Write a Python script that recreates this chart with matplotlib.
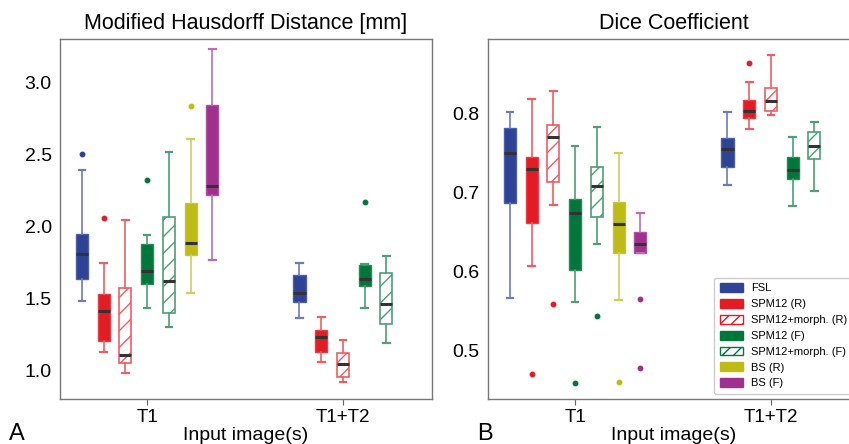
import matplotlib
matplotlib.use("Agg")
import matplotlib.pyplot as plt
import numpy as np
from matplotlib.patches import Patch
from matplotlib.colors import to_rgb

plt.rcParams['font.family'] = ['Liberation Sans', 'DejaVu Sans']
plt.rcParams['hatch.linewidth'] = 1.0

# ---------------- data ----------------
methods = ["FSL", "SPM12 (R)", "SPM12+morph. (R)", "SPM12 (F)",
           "SPM12+morph. (F)", "BS (R)", "BS (F)"]
groups = ["T1", "T1+T2"]
colors = ["#2E4396", "#E31B23", "#E31B23", "#00773A", "#00773A", "#BDBB14", "#A0308E"]
hatched = [False, False, True, False, True, False, False]

# Modified Hausdorff Distance, T1 (7 methods)
mhd_t1_whislo = [1.487, 1.132, 0.986, 1.434, 1.307, 1.540, 1.769]
mhd_t1_q1     = [1.640, 1.210, 1.058, 1.603, 1.400, 1.801, 2.217]
mhd_t1_med    = [1.808, 1.416, 1.113, 1.690, 1.626, 1.889, 2.284]
mhd_t1_q3     = [1.949, 1.531, 1.573, 1.878, 2.069, 2.164, 2.845]
mhd_t1_whishi = [2.393, 1.748, 2.046, 1.940, 2.520, 2.605, 3.231]
mhd_t1_fliers = [[2.501], [2.060], [], [2.323], [], [2.834], []]
# Modified Hausdorff Distance, T1+T2 (first 5 methods)
mhd_t12_whislo = [1.369, 1.060, 0.926, 1.439, 1.196]
mhd_t12_q1     = [1.480, 1.129, 0.956, 1.589, 1.323]
mhd_t12_med    = [1.543, 1.238, 1.051, 1.637, 1.462]
mhd_t12_q3     = [1.667, 1.284, 1.127, 1.732, 1.677]
mhd_t12_whishi = [1.748, 1.376, 1.217, 1.739, 1.794]
mhd_t12_fliers = [[], [], [], [2.173], []]

# Dice coefficient, T1
dice_t1_whislo = [0.566, 0.607, 0.684, 0.561, 0.634, 0.564, 0.623]
dice_t1_q1     = [0.686, 0.661, 0.713, 0.602, 0.669, 0.623, 0.623]
dice_t1_med    = [0.750, 0.729, 0.770, 0.673, 0.708, 0.660, 0.634]
dice_t1_q3     = [0.781, 0.744, 0.785, 0.691, 0.732, 0.687, 0.649]
dice_t1_whishi = [0.802, 0.818, 0.828, 0.758, 0.782, 0.749, 0.674]
dice_t1_fliers = [[], [0.470], [0.558], [0.458], [0.543], [0.460], [0.565, 0.477]]
# Dice coefficient, T1+T2
dice_t12_whislo = [0.709, 0.780, 0.798, 0.682, 0.702]
dice_t12_q1     = [0.732, 0.794, 0.803, 0.717, 0.742]
dice_t12_med    = [0.755, 0.803, 0.816, 0.728, 0.758]
dice_t12_q3     = [0.768, 0.817, 0.832, 0.744, 0.776]
dice_t12_whishi = [0.801, 0.839, 0.874, 0.770, 0.789]
dice_t12_fliers = [[], [0.863], [], [], []]

# ---------------- layout ----------------
fig = plt.figure(figsize=(8.49, 4.44), dpi=100)
W, H = 849, 444
axA = fig.add_axes([60 / W, (H - 399) / H, 372 / W, 360 / H])
axB = fig.add_axes([488 / W, (H - 399) / H, 372 / W, 360 / H])

step = 0.111
bw = 0.062


def lighten(c, f=0.35):
    r, g, b = to_rgb(c)
    return (r + (1 - r) * f, g + (1 - g) * f, b + (1 - b) * f)


def draw(ax, grp_idx, lo, q1, med, q3, hi, fl):
    n = len(med)
    for i in range(n):
        pos = grp_idx + (i - (n - 1) / 2) * step
        st = [dict(whislo=lo[i], q1=q1[i], med=med[i], q3=q3[i],
                   whishi=hi[i], fliers=fl[i])]
        c = colors[i]
        lc = lighten(c, 0.3)
        if hatched[i]:
            bp = dict(facecolor='white', edgecolor=lc, hatch='//', linewidth=1.2)
        else:
            bp = dict(facecolor=c, edgecolor=lighten(c, 0.15), linewidth=1.0)
        ax.bxp(st, positions=[pos], widths=bw, patch_artist=True,
               capwidths=bw * 0.55,
               boxprops=bp,
               whiskerprops=dict(color=lc, linewidth=1.2),
               capprops=dict(color=lc, linewidth=1.6),
               medianprops=dict(color='#333333', linewidth=2.2),
               flierprops=dict(marker='o', markersize=3.2,
                               markerfacecolor=c, markeredgecolor=c),
               manage_ticks=False)


draw(axA, 0, mhd_t1_whislo, mhd_t1_q1, mhd_t1_med, mhd_t1_q3, mhd_t1_whishi, mhd_t1_fliers)
draw(axA, 1, mhd_t12_whislo, mhd_t12_q1, mhd_t12_med, mhd_t12_q3, mhd_t12_whishi, mhd_t12_fliers)
draw(axB, 0, dice_t1_whislo, dice_t1_q1, dice_t1_med, dice_t1_q3, dice_t1_whishi, dice_t1_fliers)
draw(axB, 1, dice_t12_whislo, dice_t12_q1, dice_t12_med, dice_t12_q3, dice_t12_whishi, dice_t12_fliers)

for ax in (axA, axB):
    ax.set_xlim(-0.445, 1.455)
    ax.set_xticks([0, 1])
    ax.set_xticklabels(groups, fontsize=13.5)
    ax.tick_params(axis='x', length=4, color='#666666', pad=3)
    ax.tick_params(axis='y', length=0, pad=6, labelsize=14)
    for s in ax.spines.values():
        s.set_color('#777777')
        s.set_linewidth(1.0)
    ax.set_xlabel("Input image(s)", fontsize=14, labelpad=1)

axA.set_ylim(0.806, 3.30)
axA.set_yticks([1.0, 1.5, 2.0, 2.5, 3.0])
axA.set_yticklabels(["1.0", "1.5", "2.0", "2.5", "3.0"])
axB.set_ylim(0.438, 0.894)
axB.set_yticks([0.5, 0.6, 0.7, 0.8])
axB.set_yticklabels(["0.5", "0.6", "0.7", "0.8"])

axA.set_title("Modified Hausdorff Distance [mm]", fontsize=15.5, pad=7)
axB.set_title("Dice Coefficient", fontsize=15.5, pad=7)

fig.text(9 / W, 1 - 440 / H, "A", fontsize=17, ha='left', va='baseline')
fig.text(477 / W, 1 - 440 / H, "B", fontsize=17, ha='left', va='baseline')

handles = []
for i, m in enumerate(methods):
    if hatched[i]:
        handles.append(Patch(facecolor='white', edgecolor=colors[i], hatch='///', label=m))
    else:
        handles.append(Patch(facecolor=colors[i], edgecolor=colors[i], label=m))
leg = axB.legend(handles=handles, loc='lower left',
                 bbox_to_anchor=(714 / W, (H - 394) / H),
                 bbox_transform=fig.transFigure, borderaxespad=0,
                 fontsize=8, frameon=True, handlelength=2.1, handleheight=0.85,
                 handletextpad=0.7, borderpad=0.5,
                 labelspacing=0.5, fancybox=True, framealpha=1, edgecolor='#cccccc')

fig.savefig("out.png", dpi=100)
